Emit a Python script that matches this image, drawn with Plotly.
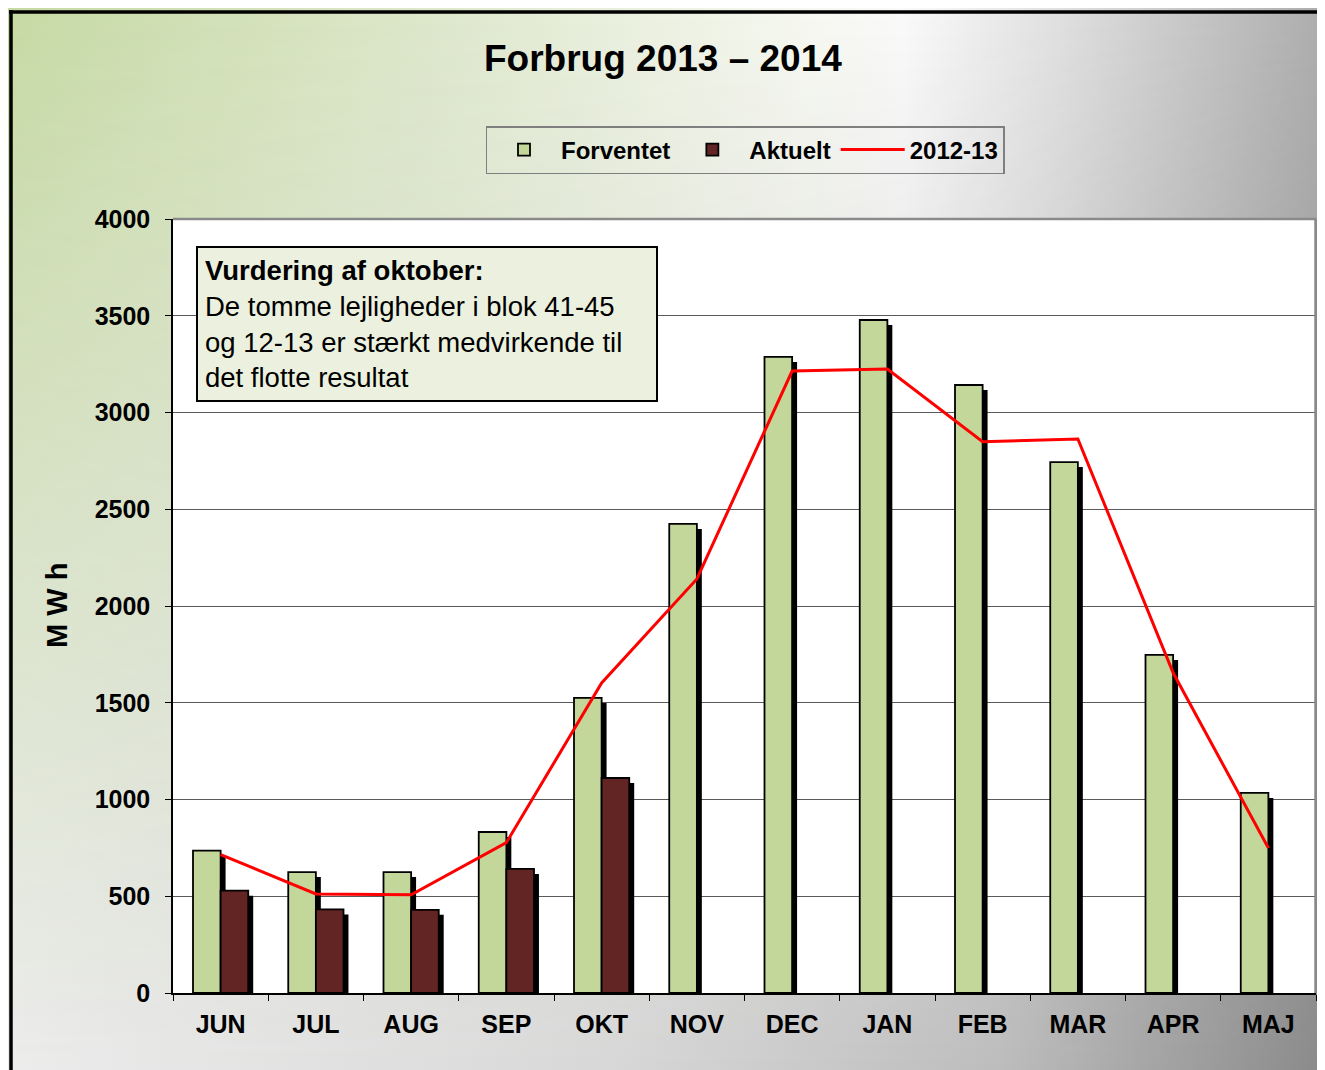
import base64
import plotly.graph_objects as go

# ---- data ----
months = ["JUN", "JUL", "AUG", "SEP", "OKT", "NOV", "DEC", "JAN", "FEB", "MAR", "APR", "MAJ"]
forventet = [736, 625, 625, 832, 1525, 2424, 3287, 3478, 3142, 2744, 1747, 1034]
aktuelt = [529, 432, 430, 641, 1111, None, None, None, None, None, None, None]
line_2012_13 = [715, 512, 508, 777, 1602, 2140, 3214, 3225, 2849, 2863, 1655, 749]
y_ticks = [0, 500, 1000, 1500, 2000, 2500, 3000, 3500, 4000]

# ---- layout geometry (screen pixels; page has an 8px body margin) ----
PAGE = 8
W, H = 1325 - PAGE, 1070 - PAGE
PLOT_L, PLOT_R, PLOT_T, PLOT_B = 173, 1316, 219, 993
L = PLOT_L - PAGE
T = PLOT_T - PAGE
R = PAGE + W - PLOT_R
B = PAGE + H - PLOT_B
PW, PH = PLOT_R - PLOT_L, PLOT_B - PLOT_T

def px(xs):
    return (xs - PLOT_L) / PW

def py(ys):
    return (PLOT_B - ys) / PH

FONT = "Liberation Sans, Arial, sans-serif"
GREEN = "#c4d79b"
MAROON = "#632523"

BAR_W = 0.29
SH_DX = 0.052
SH_DROP = 26

shadow_f = [v - SH_DROP for v in forventet]
shadow_a = [None if v is None else v - SH_DROP for v in aktuelt]

fig = go.Figure()
fig.add_trace(go.Bar(x=months, y=shadow_f, offset=-BAR_W + SH_DX, width=BAR_W,
                     marker=dict(color="black", line=dict(width=0)), showlegend=False, hoverinfo="skip"))
fig.add_trace(go.Bar(x=months, y=forventet, offset=-BAR_W, width=BAR_W, name="Forventet",
                     marker=dict(color=GREEN, line=dict(color="black", width=1.8))))
fig.add_trace(go.Bar(x=months, y=shadow_a, offset=SH_DX, width=BAR_W,
                     marker=dict(color="black", line=dict(width=0)), showlegend=False, hoverinfo="skip"))
fig.add_trace(go.Bar(x=months, y=aktuelt, offset=0, width=BAR_W, name="Aktuelt",
                     marker=dict(color=MAROON, line=dict(color="black", width=1.8))))
fig.add_trace(go.Scatter(x=months, y=line_2012_13, mode="lines", name="2012-13",
                         line=dict(color="#ff0000", width=3)))

# background gradient as inline SVG
svg = f"""<svg xmlns='http://www.w3.org/2000/svg' width='{W}' height='{H}' viewBox='0 0 {W} {H}' preserveAspectRatio='none'>
<defs>
<linearGradient id='t' x1='0' y1='0' x2='1' y2='0'>
<stop offset='0' stop-color='#c6daa4'/>
<stop offset='0.35' stop-color='#e0e9cf'/>
<stop offset='0.6' stop-color='#f6f8f0'/>
<stop offset='0.68' stop-color='#fafafa'/>
<stop offset='0.8' stop-color='#e0e0e0'/>
<stop offset='1' stop-color='#adadad'/>
</linearGradient>
<linearGradient id='b' x1='0' y1='0' x2='1' y2='0'>
<stop offset='0' stop-color='#ececec'/>
<stop offset='0.45' stop-color='#d8d8d8'/>
<stop offset='0.75' stop-color='#bdbdbd'/>
<stop offset='1' stop-color='#8a8a8a'/>
</linearGradient>
<linearGradient id='v' x1='0' y1='0' x2='0' y2='1'>
<stop offset='0' stop-color='black'/>
<stop offset='1' stop-color='white'/>
</linearGradient>
<mask id='m'><rect x='0' y='0' width='{W}' height='{H}' fill='url(#v)'/></mask>
</defs>
<rect x='0' y='0' width='{W}' height='{H}' fill='url(#t)'/>
<rect x='0' y='0' width='{W}' height='{H}' fill='url(#b)' mask='url(#m)'/>
</svg>"""
src = "data:image/svg+xml;base64," + base64.b64encode(svg.encode("utf-8")).decode("ascii")

fig.update_layout(
    width=W, height=H,
    margin=dict(l=L, r=R, t=T, b=B, autoexpand=False),
    paper_bgcolor="#e8e8e8",
    plot_bgcolor="white",
    barmode="overlay",
    font=dict(family=FONT, color="black"),
    showlegend=True,
    legend=dict(orientation="h", x=px(745), xanchor="center", y=py(126), yanchor="top",
                bgcolor="rgba(0,0,0,0)", bordercolor="#7f7f7f", borderwidth=1.5,
                font=dict(family=FONT, size=24, color="black", weight="bold"),
                itemwidth=64, traceorder="normal"),
    images=[dict(source=src, xref="paper", yref="paper", x=px(PAGE), y=py(PAGE),
                 sizex=W / PW, sizey=H / PH, sizing="stretch", xanchor="left", yanchor="top",
                 layer="below", opacity=1)],
    xaxis=dict(type="category", categoryorder="array", categoryarray=months,
               tickson="boundaries", ticks="outside", ticklen=6, tickcolor="black", tickwidth=1,
               showline=True, linecolor="black", linewidth=1.5, showgrid=False,
               ticklabelstandoff=8,
               tickfont=dict(family=FONT, size=25, color="black", weight="bold"),
               range=[-0.5, 11.5]),
    yaxis=dict(range=[0, 4000], tickvals=y_ticks, ticks="outside", ticklen=6, tickcolor="black",
               showline=True, linecolor="black", linewidth=1.5,
               showgrid=True, gridcolor="#5a5a5a", gridwidth=1, zeroline=False,
               ticklabelstandoff=10,
               tickfont=dict(family=FONT, size=25, color="black", weight="bold")),
    shapes=[
        dict(type="rect", xref="paper", yref="paper", x0=0, x1=1, y0=0, y1=1,
             fillcolor="white", line=dict(width=0), layer="below"),
        dict(type="line", xref="paper", yref="paper", x0=0, x1=1, y0=1, y1=1,
             line=dict(color="#8a8a8a", width=2.5), layer="above"),
        dict(type="line", xref="paper", yref="paper", x0=1, x1=1, y0=0, y1=1,
             line=dict(color="#8a8a8a", width=3.5), layer="above"),
        dict(type="line", xref="paper", yref="paper", x0=px(9), x1=px(1330), y0=py(12), y1=py(12),
             line=dict(color="black", width=3.5), layer="above"),
        dict(type="line", xref="paper", yref="paper", x0=px(11), x1=px(11), y0=py(10), y1=py(1075),
             line=dict(color="black", width=3.5), layer="above"),
    ],
    annotations=[
        dict(text="Forbrug 2013 – 2014", xref="paper", yref="paper", x=px(663), y=py(58),
             xanchor="center", yanchor="middle", showarrow=False,
             font=dict(family=FONT, size=37, color="black", weight="bold")),
        dict(text="M W h", xref="paper", yref="paper", x=px(57), y=py(606), textangle=-90,
             xanchor="center", yanchor="middle", showarrow=False,
             font=dict(family=FONT, size=29, color="black", weight="bold")),
        dict(text="<b>Vurdering af oktober:</b><br>De tomme lejligheder i blok 41-45<br>"
                  "og 12-13 er stærkt medvirkende til<br>det flotte resultat",
             xref="paper", yref="paper", x=px(196), y=py(246), xanchor="left", yanchor="top",
             align="left", showarrow=False, bgcolor="#ebf1de", bordercolor="black",
             borderwidth=2, borderpad=7, width=444,
             font=dict(family=FONT, size=27.5, color="black")),
    ],
)

fig.write_html("out.html")
